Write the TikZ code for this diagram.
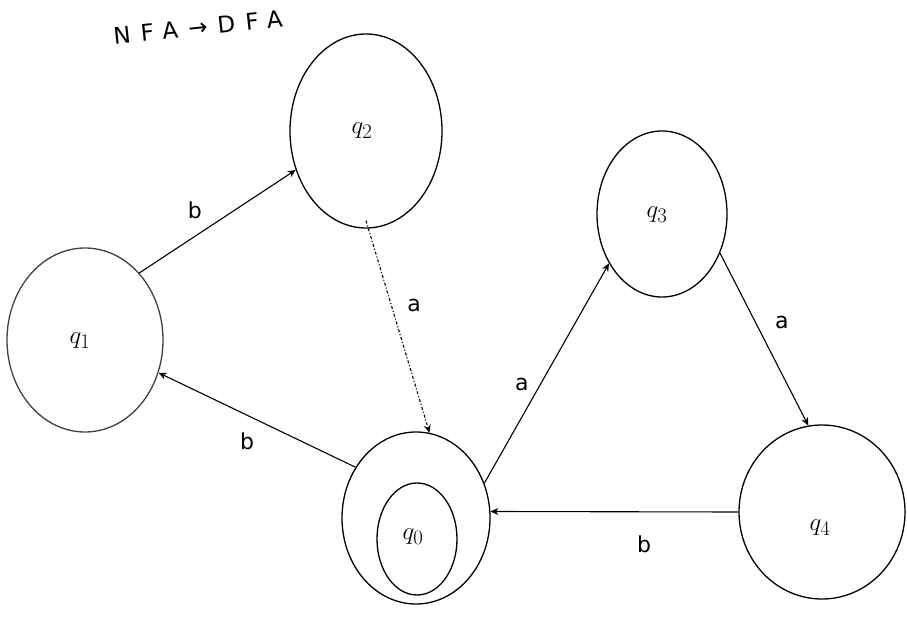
\documentclass[tikz,border=0pt]{standalone}
\usepackage{fontspec}
\setsansfont{DejaVu Sans}
\newfontfamily\titlefont[LetterSpace=45]{DejaVu Sans}
\usetikzlibrary{shapes.geometric,arrows.meta}
\begin{document}
\begin{tikzpicture}[x=1pt,y=-1pt,
  st/.style={draw=black,line width=1.3pt,ellipse,inner sep=0pt},
  lbl/.style={font=\fontsize{30}{30}\selectfont},
  tr/.style={draw=black,line width=1.1pt,-{Stealth[length=8pt,width=7pt]}},
  el/.style={font=\fontsize{22}{22}\selectfont\sffamily}]
\useasboundingbox (0,0) rectangle (907,639);
\node[st,minimum width=152pt,minimum height=194pt] (q2) at (366,131) {};
\node[lbl] (l2) at (362,131) {$q_2$};
\node[st,draw=black!75,minimum width=156pt,minimum height=184pt] (q1) at (85,340) {};
\node[lbl] (l1) at (80,341) {$q_1$};
\node[st,minimum width=130pt,minimum height=166pt] (q3) at (662,214) {};
\node[lbl] (l3) at (657,215) {$q_3$};
\node[st,minimum width=148pt,minimum height=172pt] (q0) at (416,518) {};
\node[st,minimum width=80pt,minimum height=112pt] (q0i) at (417,539) {};
\node[lbl] (l0) at (413,537) {$q_0$};
\node[st,minimum width=166pt,minimum height=174pt] (q4) at (822,512) {};
\node[lbl] (l4) at (820,528) {$q_4$};
\node[font=\fontsize{23}{23}\titlefont,rotate=6] (title) at (198,27) {NFA→DFA};
\draw[tr] (q1.51) -- (q2.209) node[el,pos=0.45,above left=4pt] {b};
\draw[tr,dash dot] ([yshift=8pt]q2.south) -- (q0.81) node[el,pos=0.4,right=12pt] {a};
\draw[tr] (q0.140) -- (q1.-24) node[el,pos=0.55,below=14pt] {b};
\draw[tr] (q0.27) -- (q3.223) node[el,pos=0.45,left=8pt] {a};
\draw[tr] (q3.-34) -- (q4.99) node[el,pos=0.4,right=16pt] {a};
\draw[tr] (q4.180) -- (q0.5) node[el,pos=0.38,below=20pt] {b};
\end{tikzpicture}
\end{document}
